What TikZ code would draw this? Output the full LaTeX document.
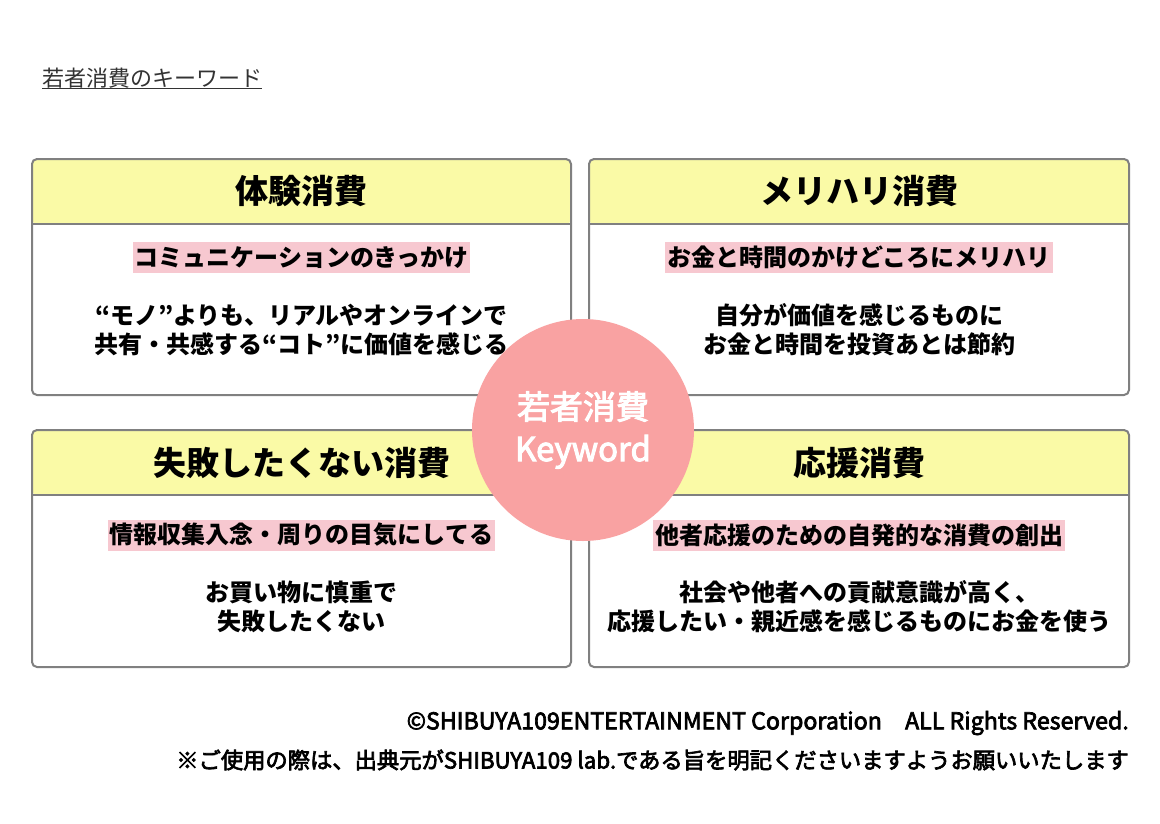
\documentclass[tikz,border=0pt]{standalone}
\usepackage{fontspec}
\setmainfont{Noto Sans CJK JP}
\newfontfamily\jpmid[FakeBold=3]{Noto Sans CJK JP}
\usetikzlibrary{positioning}
\definecolor{cardgray}{HTML}{808080}
\definecolor{headyellow}{HTML}{FAFAA6}
\definecolor{tagpink}{HTML}{F7C8D0}
\definecolor{keypink}{HTML}{F9A2A2}
\definecolor{inkgray}{HTML}{333333}
\tikzset{
  card/.style={draw=cardgray, line width=2pt, fill=white, rounded corners=5pt,
    minimum width=539pt, minimum height=236pt, inner sep=0pt, outer sep=0pt,
    path picture={
      \fill[headyellow] (path picture bounding box.north west) rectangle ([yshift=-65pt]path picture bounding box.north east);
      \draw[cardgray, line width=2pt] ([yshift=-65pt]path picture bounding box.north west) -- ([yshift=-65pt]path picture bounding box.north east);
    }},
  headtext/.style={font=\bfseries\fontsize{33}{40}\selectfont, inner sep=0pt},
  tag/.style={fill=tagpink, font=\bfseries\fontsize{24}{29}\selectfont, inner xsep=2pt, inner ysep=0pt, minimum height=31pt},
  bodytext/.style={font=\bfseries\fontsize{24}{29}\selectfont, align=center, inner sep=0pt},
  keycircle/.style={circle, fill=keypink, minimum size=222pt, inner sep=0pt, text=white, align=center, font=\jpmid\fontsize{33}{42}\selectfont},
  footnote/.style={anchor=east, inner sep=0pt, font=\jpmid\fontsize{22.3}{26}\selectfont}
}
\begin{document}
\begin{tikzpicture}[x=1pt, y=-1pt]
    \fill[white] (0,0) rectangle (1160,823);
    \useasboundingbox (0,0) rectangle (1160,823);
    % title
    \node[anchor=west, inner sep=0pt, text=inkgray, font=\fontsize{22}{26}\selectfont] (title) at (42,78) {若者消費のキーワード};
    \draw[inkgray, line width=1pt] (title.south west) -- (title.south east);
    % upper left
    \node[card] (c1) at (301.5,277) {};
    \node[headtext] (h1) at (301.5,191.5) {体験消費};
    \node[tag] (t1) at (301.5,257.5) {コミュニケーションのきっかけ};
    \node[bodytext] (b1) at (301.5,330) {“モノ”よりも、リアルやオンラインで\\共有・共感する“コト”に価値を感じる};
    % upper right
    \node[card, minimum width=540pt] (c2) at (859,277) {};
    \node[headtext] (h2) at (859,191.5) {メリハリ消費};
    \node[tag] (t2) at (859,257.5) {お金と時間のかけどころにメリハリ};
    \node[bodytext] (b2) at (859,330) {自分が価値を感じるものに\\お金と時間を投資あとは節約};
    % lower left
    \node[card, minimum height=237pt] (c3) at (301.5,548.5) {};
    \node[headtext] (h3) at (301.5,462.5) {失敗したくない消費};
    \node[tag] (t3) at (301.5,535) {情報収集入念・周りの目気にしてる};
    \node[bodytext] (b3) at (301.5,607) {お買い物に慎重で\\失敗したくない};
    % lower right
    \node[card, minimum width=540pt, minimum height=237pt] (c4) at (859,548.5) {};
    \node[headtext] (h4) at (859,462.5) {応援消費};
    \node[tag] (t4) at (859,535) {他者応援のための自発的な消費の創出};
    \node[bodytext] (b4) at (859,607) {社会や他者への貢献意識が高く、\\応援したい・親近感を感じるものにお金を使う};
    % centre
    \node[keycircle] (key) at (583,430) {若者消費\\Keyword};
    % footer
    \node[footnote, font=\jpmid\fontsize{23.2}{26}\selectfont] (copy) at (1129,723) {©SHIBUYA109ENTERTAINMENT Corporation　ALL Rights Reserved.};
    \node[footnote] (note) at (1129,760) {※ご使用の際は、出典元がSHIBUYA109 lab.である旨を明記くださいますようお願いいたします};
\end{tikzpicture}
\end{document}
